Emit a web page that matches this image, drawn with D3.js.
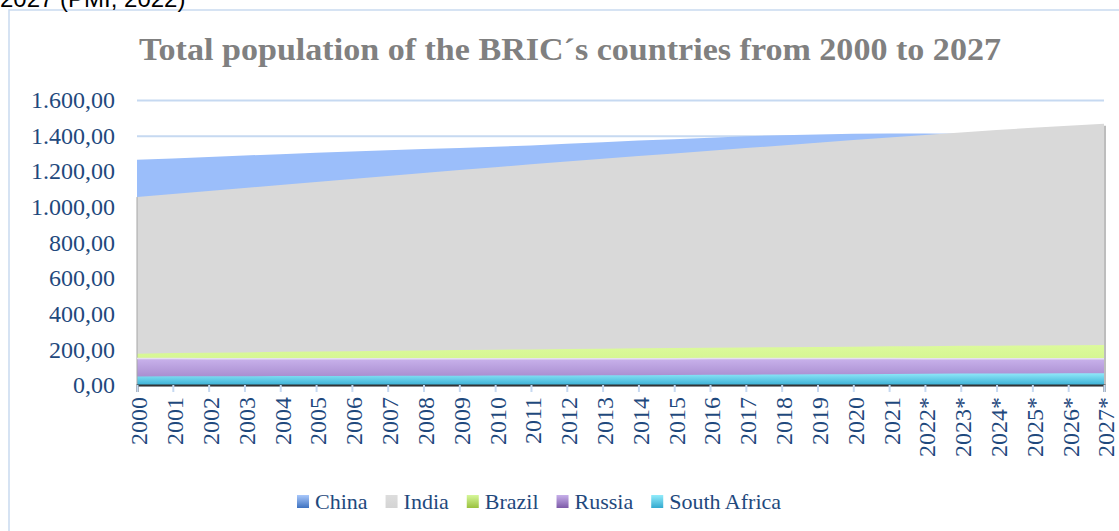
<!DOCTYPE html>
<html>
<head>
<meta charset="utf-8">
<script src="https://cdn.jsdelivr.net/npm/d3@7"></script>
<style>
  body { margin: 0; background: #fff; }
  svg { display: block; }
</style>
</head>
<body>
<svg id="chart" width="1119" height="531"></svg>
<script>
// data (millions of people)
const years = ["2000","2001","2002","2003","2004","2005","2006","2007","2008","2009",
  "2010","2011","2012","2013","2014","2015","2016","2017","2018","2019","2020","2021",
  "2022*","2023*","2024*","2025*","2026*","2027*"];
const china = [1264,1272,1280,1288,1296,1304,1311,1318,1325,1331,1338,1345,1354,1363,
  1372,1380,1388,1396,1402,1407,1411,1412,1412,1411,1410,1409,1408,1406];
const india = [1055,1072,1089,1106,1123,1140,1157,1174,1190,1207,1223,1239,1255,1270,
  1285,1300,1315,1330,1345,1360,1375,1390,1404,1418,1431,1444,1456,1466];
const brazil = [176,179,181,183,186,188,190,192,194,196,198,200,202,204,206,208,209,
  211,212,214,215,217,218,220,221,222,223,224];
const russia = [149,149,148,148,147,147,147,147,147,147,147,147,148,148,148,148,149,
  149,149,149,149,149,148,148,148,148,148,148];
const southAfrica = [48,48.5,49,49.5,50,50.5,51,51.5,52,52.5,53,53.5,54,54.5,55,56,
  57,58,59,60,61,62,63,64,64.5,65,65.5,66];
const yTicks = [0,200,400,600,800,1000,1200,1400,1600];

const series = [
  { name: "China", values: china, fill: "#9BBEFA", sw: ["#a9c8fb", "#3e72c0"] },
  { name: "India", values: india, fill: "#D9D9D9", sw: ["#dddddd", "#d4d4d4"] },
  { name: "Brazil", values: brazil, fill: "url(#gBrazil)", sw: ["#d6f79a", "#9ac13e"] },
  { name: "Russia", values: russia, fill: "url(#gRussia)", sw: ["#c7b0ea", "#7d5aa8"] },
  { name: "South Africa", values: southAfrica, fill: "url(#gSA)", sw: ["#92ecfb", "#33a9cf"] }
];

const svg = d3.select("#chart");
const x = d3.scalePoint().domain(years).range([137, 1104]);
const y = d3.scaleLinear().domain([0, 1600]).range([385, 100]);
const fmt = d3.formatLocale({ decimal: ",", thousands: ".", grouping: [3], currency: ["", ""] }).format(",.2f");

const defs = svg.append("defs");
function grad(id, top, bottom) {
  const g = defs.append("linearGradient").attr("id", id)
    .attr("x1", 0).attr("y1", 0).attr("x2", 0).attr("y2", 1);
  g.append("stop").attr("offset", "0%").attr("stop-color", top);
  g.append("stop").attr("offset", "100%").attr("stop-color", bottom);
}
grad("gBrazil", "#dcfa9c", "#c8ee80");
grad("gRussia", "#c9b2ec", "#9a7dc3");
grad("gSA", "#90e8f9", "#3cb1d6");
series.forEach((s, i) => grad("sw" + i, s.sw[0], s.sw[1]));

// frame
svg.append("rect").attr("x", 9).attr("y", 10).attr("width", 1130).attr("height", 540)
  .attr("fill", "none").attr("stroke", "#C9DAF0").attr("stroke-width", 1.5);

// cut-off caption line above the frame
svg.append("text").attr("x", 0).attr("y", 7)
  .style("font-family", "'Liberation Sans', Arial, sans-serif").style("font-size", "24px")
  .attr("fill", "#000").text("2027 (PMI, 2022)");

// title
svg.append("text").attr("x", 570).attr("y", 60).attr("text-anchor", "middle")
  .attr("textLength", 862).attr("lengthAdjust", "spacingAndGlyphs")
  .style("font-family", "'Liberation Serif', 'DejaVu Serif', serif")
  .style("font-size", "31px").style("font-weight", "bold")
  .attr("fill", "#808080").text("Total population of the BRIC´s countries from 2000 to 2027");

// gridlines
const grid = svg.append("g").attr("transform", "translate(137,0)")
  .call(d3.axisLeft(y).tickValues(yTicks).tickSize(-967).tickFormat(""));
grid.select(".domain").remove();
grid.selectAll("line").attr("stroke", "#C6D9F1").attr("stroke-width", 2);

// y labels
const yAxis = svg.append("g").attr("transform", "translate(137,0)")
  .call(d3.axisLeft(y).tickValues(yTicks).tickSize(0).tickPadding(22).tickFormat(fmt));
yAxis.select(".domain").remove();
yAxis.selectAll("text").attr("fill", "#1F497D")
  .style("font-family", "'Liberation Serif', serif").style("font-size", "24px");

// areas, drawn back to front
const area = d3.area()
  .x((d, i) => x(years[i]))
  .y0(y(0))
  .y1(d => y(d));
svg.append("g").selectAll("path").data(series).join("path")
  .attr("d", d => area(d.values))
  .attr("fill", d => d.fill);

// edge shading of the plot block
svg.append("line").attr("x1", x(years[0])).attr("x2", x(years[0]))
  .attr("y1", y(india[0])).attr("y2", y(0)).attr("stroke", "#a6a6a6").attr("stroke-width", 1);
svg.append("line").attr("x1", x(years[27]) + 1).attr("x2", x(years[27]) + 1)
  .attr("y1", y(india[27]) + 2).attr("y2", y(0)).attr("stroke", "#bdbdbd").attr("stroke-width", 2);
svg.append("path")
  .attr("d", d3.line().x((d, i) => x(years[i])).y(d => y(d))(russia))
  .attr("fill", "none").attr("stroke", "#e6e0f0").attr("stroke-width", 1.5);

// x axis
const xAxis = svg.append("g").attr("transform", `translate(0,${y(0)})`)
  .call(d3.axisBottom(x).tickSize(7).tickFormat(""));
xAxis.select(".domain").attr("stroke", "#333").attr("stroke-width", 2);
xAxis.selectAll(".tick line").attr("stroke", "#C6D9F1").attr("stroke-width", 2);

svg.append("g").selectAll("text").data(years).join("text")
  .attr("transform", d => `translate(${x(d) + 2},397) rotate(-90)`)
  .attr("text-anchor", "end").attr("dy", "0.35em")
  .attr("fill", "#1F497D")
  .style("font-family", "'Liberation Serif', serif").style("font-size", "24px")
  .text(d => d);

// legend
const legend = svg.append("g");
let lx = 297;
series.forEach((s, i) => {
  legend.append("rect").attr("x", lx).attr("y", 495).attr("width", 12).attr("height", 13)
    .attr("fill", `url(#sw${i})`);
  const t = legend.append("text").attr("x", lx + 18).attr("y", 509)
    .attr("fill", "#1F497D")
    .style("font-family", "'Liberation Serif', serif").style("font-size", "22px")
    .text(s.name);
  lx += 18 + t.node().getComputedTextLength() + 18;
});
</script>
</body>
</html>
